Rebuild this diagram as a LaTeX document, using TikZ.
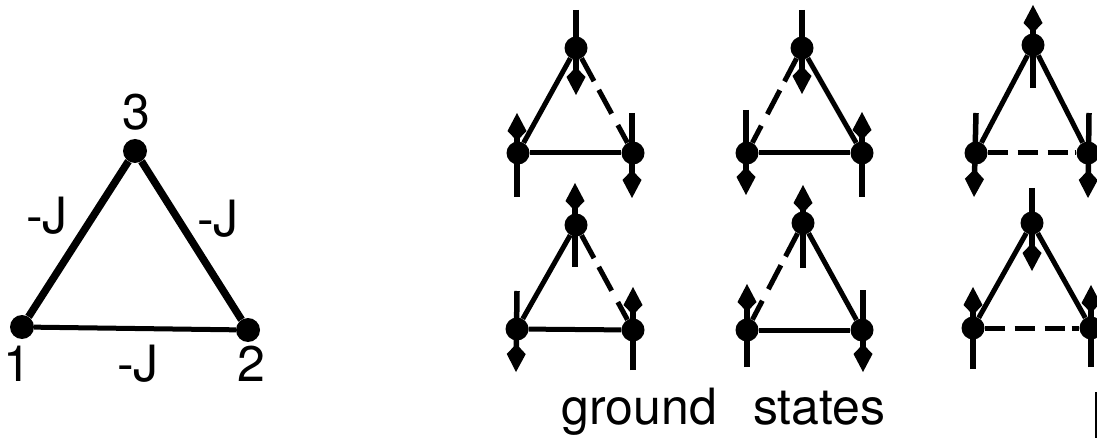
\documentclass[tikz,border=0pt]{standalone}
\usepackage{fontspec}
\setmainfont{TeX Gyre Heros}
\usetikzlibrary{arrows.meta}
\tikzset{
  dot/.style={circle,fill=black,inner sep=0pt,minimum size=23pt},
  bigdot/.style={circle,fill=black,inner sep=0pt,minimum size=24pt},
  edge/.style={line width=5pt},
  bond/.style={line width=7.5pt},
  spin/.style={line width=5.5pt,-{Kite[length=28pt,width=19pt,inset=10pt]}},
  slant/.style={edge,dash pattern=on 26pt off 10pt on 27pt off 13pt on 90pt},
  flat/.style={edge,dash pattern=on 20pt off 10pt on 20pt off 10pt on 20pt off 7pt on 60pt},
  label/.style={font=\fontsize{50}{50}\selectfont,inner sep=0pt}
}
\begin{document}
\begin{tikzpicture}[x=1pt,y=-1pt]
\useasboundingbox (0,0) rectangle (1097,438);

% big triangle
\node[bigdot] (one) at (22,327) {};
\node[bigdot] (two) at (248,330) {};
\node[bigdot] (three) at (135,151) {};
\draw[bond] (one) -- (three);
\draw[bond] (three) -- (two);
\draw[edge] (one) -- (two);
\node[label] (nThree) at (136,112) {3};
\node[label] (nOne) at (17,364) {1};
\node[label] (nTwo) at (251,364) {2};
\node[label] (jLeft) at (47,216) {-J};
\node[label] (jRight) at (218,219) {-J};
\node[label] (jBottom) at (138,364) {-J};

% first column, upper
\node[dot] (topA) at (576,48) {};
\node[dot] (leftA) at (518,153) {};
\node[dot] (rightA) at (633,153) {};
\draw[edge] (topA) -- (leftA);
\draw[slant] (topA) -- (rightA);
\draw[edge] (leftA) -- (rightA);
\coordinate (topAa) at (576,10); \coordinate (topAb) at (576,95);
\coordinate (leftAa) at (517,197); \coordinate (leftAb) at (517,113);
\coordinate (rightAa) at (632,113); \coordinate (rightAb) at (632,198);
\draw[spin] (topAa) -- (topAb);
\draw[spin] (leftAa) -- (leftAb);
\draw[spin] (rightAa) -- (rightAb);

% second column, upper
\node[dot] (topB) at (802,48) {};
\node[dot] (leftB) at (747,153) {};
\node[dot] (rightB) at (862,153) {};
\draw[slant] (topB) -- (leftB);
\draw[edge] (topB) -- (rightB);
\draw[edge] (leftB) -- (rightB);
\coordinate (topBa) at (802,10); \coordinate (topBb) at (802,94);
\coordinate (leftBa) at (746,110); \coordinate (leftBb) at (746,195);
\coordinate (rightBa) at (862,197); \coordinate (rightBb) at (862,112);
\draw[spin] (topBa) -- (topBb);
\draw[spin] (leftBa) -- (leftBb);
\draw[spin] (rightBa) -- (rightBb);

% third column, upper
\node[dot] (topC) at (1033,45) {};
\node[dot] (leftC) at (976,153) {};
\node[dot] (rightC) at (1088,153) {};
\draw[edge] (topC) -- (leftC);
\draw[edge] (topC) -- (rightC);
\draw[flat] (leftC) -- (rightC);
\coordinate (topCa) at (1033,88); \coordinate (topCb) at (1033,5);
\coordinate (leftCa) at (976,113); \coordinate (leftCb) at (974,197);
\coordinate (rightCa) at (1089,113); \coordinate (rightCb) at (1088,198);
\draw[spin] (topCa) -- (topCb);
\draw[spin] (leftCa) -- (leftCb);
\draw[spin] (rightCa) -- (rightCb);

% first column, lower
\node[dot] (topD) at (576,225) {};
\node[dot] (leftD) at (517,329) {};
\node[dot] (rightD) at (633,330) {};
\draw[edge] (topD) -- (leftD);
\draw[slant] (topD) -- (rightD);
\draw[edge] (leftD) -- (rightD);
\coordinate (topDa) at (575,267); \coordinate (topDb) at (575,183);
\coordinate (leftDa) at (517,291); \coordinate (leftDb) at (516,372);
\coordinate (rightDa) at (633,370); \coordinate (rightDb) at (633,287);
\draw[spin] (topDa) -- (topDb);
\draw[spin] (leftDa) -- (leftDb);
\draw[spin] (rightDa) -- (rightDb);

% second column, lower
\node[dot] (topE) at (803,223) {};
\node[dot] (leftE) at (747,330) {};
\node[dot] (rightE) at (862,330) {};
\draw[slant] (topE) -- (leftE);
\draw[edge] (topE) -- (rightE);
\draw[edge] (leftE) -- (rightE);
\coordinate (topEa) at (803,268); \coordinate (topEb) at (803,185);
\coordinate (leftEa) at (747,367); \coordinate (leftEb) at (747,284);
\coordinate (rightEa) at (863,290); \coordinate (rightEb) at (863,372);
\draw[spin] (topEa) -- (topEb);
\draw[spin] (leftEa) -- (leftEb);
\draw[spin] (rightEa) -- (rightEb);

% third column, lower
\node[dot] (topF) at (1032,223) {};
\node[dot] (leftF) at (973,328) {};
\node[dot] (rightF) at (1091,328) {};
\draw[edge] (topF) -- (leftF);
\draw[edge] (topF) -- (rightF);
\draw[flat] (leftF) -- (rightF);
\coordinate (topFa) at (1032,188); \coordinate (topFb) at (1032,271);
\coordinate (leftFa) at (973,369); \coordinate (leftFb) at (973,287);
\coordinate (rightFa) at (1091,367); \coordinate (rightFb) at (1091,285);
\draw[spin] (topFa) -- (topFb);
\draw[spin] (leftFa) -- (leftFb);
\draw[spin] (rightFa) -- (rightFb);

\node[label] (caption) at (723.5,412) {ground\hspace{36pt}states};

% cut off at the edge
\coordinate (barA) at (1096,392); \coordinate (barB) at (1096,438);
\draw[line width=3pt] (barA) -- (barB);
\end{tikzpicture}
\end{document}
